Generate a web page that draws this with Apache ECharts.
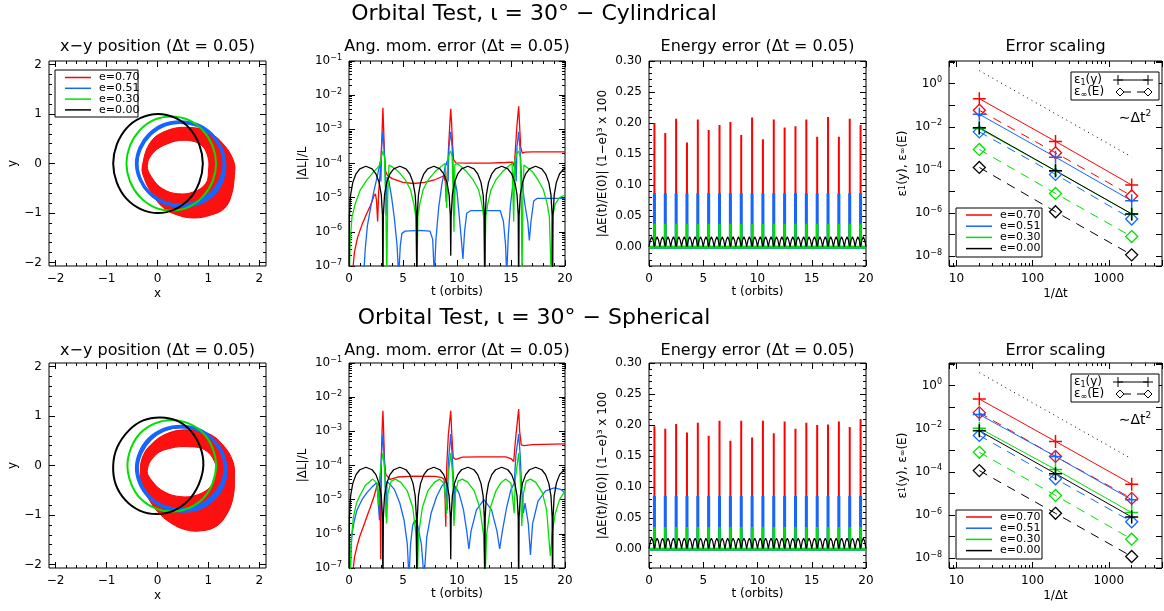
<!DOCTYPE html>
<html><head><meta charset="utf-8"><title>Orbital Test</title>
<script src="https://cdn.jsdelivr.net/npm/echarts@6.0.0/dist/echarts.min.js"></script>
<style>html,body{margin:0;padding:0;background:#fff;}#chart{width:1164px;height:611px;}</style>
</head><body><div id="chart"></div>
<script>
// ---------------- DATA ----------------
const mainTitles = ['Orbital Test, ι = 30° − Cylindrical', 'Orbital Test, ι = 30° − Spherical'];
const panelTitles = ['x−y position (Δt = 0.05)', 'Ang. mom. error (Δt = 0.05)', 'Energy error (Δt = 0.05)', 'Error scaling'];
const legendLabels = ['e=0.70', 'e=0.51', 'e=0.30', 'e=0.00'];
const xyTicks = [-2, -1, 0, 1, 2];
const tTicks = [0, 5, 10, 15, 20];
const energyTicks = [0, 0.05, 0.10, 0.15, 0.20, 0.25, 0.30];

// x-y orbits (Cylindrical)
const cylXYBlack = [[0.89,0],[0.82,0.38],[0.63,0.71],[0.35,0.92],[0.01,1.0],[-0.33,0.92],[-0.61,0.71],[-0.80,0.38],[-0.87,0],[-0.80,-0.38],[-0.61,-0.71],[-0.33,-0.92],[0.01,-1.0],[0.35,-0.92],[0.63,-0.71],[0.82,-0.38]];
const cylXYGreen = [[1.15,0],[1.08,0.36],[0.89,0.67],[0.61,0.88],[0.27,0.95],[-0.07,0.88],[-0.35,0.67],[-0.54,0.36],[-0.61,0],[-0.54,-0.36],[-0.35,-0.67],[-0.07,-0.88],[0.27,-0.95],[0.61,-0.88],[0.89,-0.67],[1.08,-0.36]];
const cylXYBlue = [[1.31,0],[1.24,0.32],[1.06,0.59],[0.78,0.78],[0.45,0.84],[0.12,0.78],[-0.16,0.59],[-0.34,0.32],[-0.41,0],[-0.34,-0.32],[-0.16,-0.59],[0.12,-0.78],[0.45,-0.84],[0.78,-0.78],[1.06,-0.59],[1.24,-0.32]];
const cylXYBlue2 = [[1.33,-0.05],[1.27,0.27],[1.09,0.55],[0.81,0.75],[0.48,0.82],[0.15,0.77],[-0.14,0.58],[-0.33,0.30],[-0.40,-0.02],[-0.32,-0.35],[-0.13,-0.63],[0.15,-0.81],[0.48,-0.87],[0.82,-0.81],[1.10,-0.63],[1.27,-0.36]];
const cylXYRedOuter = [[-0.30,-0.07],[-0.13,0.44],[0.20,0.67],[0.59,0.73],[0.99,0.64],[1.31,0.37],[1.50,0.03],[1.51,-0.24],[1.45,-0.64],[1.31,-0.91],[1.05,-1.04],[0.72,-1.10],[0.39,-1.04],[0.10,-0.88],[-0.13,-0.57],[-0.26,-0.30]];
const cylXYRedInner = [[-0.20,-0.03],[-0.07,0.23],[0.20,0.40],[0.52,0.47],[0.85,0.38],[0.99,0.13],[1.0,-0.17],[0.95,-0.40],[0.72,-0.57],[0.39,-0.61],[0.10,-0.51],[-0.10,-0.30]];
// x-y orbits (Spherical)
const sphXYBlack = [[0.90,0],[0.84,0.37],[0.66,0.69],[0.39,0.90],[0.06,0.97],[-0.28,0.91],[-0.57,0.70],[-0.79,0.37],[-0.87,0],[-0.82,-0.38],[-0.63,-0.70],[-0.35,-0.91],[-0.02,-0.98],[0.32,-0.91],[0.61,-0.70],[0.81,-0.38]];
const sphXYGreen = [[1.15,0],[1.08,0.35],[0.90,0.65],[0.61,0.85],[0.28,0.92],[-0.05,0.85],[-0.34,0.65],[-0.52,0.35],[-0.59,0],[-0.52,-0.36],[-0.34,-0.66],[-0.05,-0.86],[0.28,-0.93],[0.61,-0.86],[0.90,-0.66],[1.08,-0.36]];
const sphXYBlue = [[1.33,-0.05],[1.26,0.27],[1.07,0.54],[0.79,0.73],[0.46,0.79],[0.13,0.73],[-0.16,0.54],[-0.34,0.27],[-0.41,-0.05],[-0.34,-0.37],[-0.16,-0.64],[0.13,-0.83],[0.46,-0.89],[0.79,-0.83],[1.07,-0.64],[1.26,-0.37]];
const sphXYBlue2 = [[1.35,-0.10],[1.29,0.22],[1.11,0.50],[0.83,0.70],[0.49,0.77],[0.16,0.72],[-0.13,0.53],[-0.32,0.25],[-0.39,-0.07],[-0.31,-0.40],[-0.12,-0.68],[0.17,-0.87],[0.50,-0.93],[0.83,-0.87],[1.11,-0.68],[1.29,-0.41]];
const sphXYRedOuter = [[-0.34,-0.19],[-0.30,0.15],[-0.13,0.42],[0.20,0.65],[0.59,0.72],[0.99,0.65],[1.28,0.42],[1.48,0.08],[1.51,-0.25],[1.48,-0.66],[1.35,-1.0],[1.15,-1.23],[0.85,-1.32],[0.56,-1.30],[0.26,-1.16],[0.0,-0.93],[-0.20,-0.63],[-0.32,-0.39]];
const sphXYRedInner = [[-0.20,-0.09],[-0.03,0.22],[0.26,0.35],[0.59,0.38],[0.92,0.32],[1.12,0.08],[1.15,-0.19],[1.05,-0.42],[0.79,-0.59],[0.46,-0.63],[0.13,-0.53],[-0.10,-0.32]];

// Angular momentum error |dL|/L vs t (orbits) - Cylindrical
const cylAngRed = [[0.3,5e-8],[0.5,2.5e-7],[0.8,7e-7],[1.2,1.6e-6],[1.6,3.2e-6],[2.0,6e-6],[2.3,1.1e-5],[2.45,1.3e-5],[2.55,8e-6],[2.65,2e-6],[2.75,1.5e-5],[2.9,6e-5],[3.0,2.5e-4],[3.08,1.2e-3],[3.14,4.3e-3],[3.2,1.2e-3],[3.28,2e-4],[3.38,6e-5],[3.55,4.5e-5],[4.0,3.6e-5],[5.0,2.8e-5],[6.0,2.6e-5],[7.0,2.8e-5],[8.0,3.4e-5],[8.75,4.3e-5],[8.92,3e-5],[9.0,7.5e-6],[9.1,5e-5],[9.22,3e-4],[9.34,1.5e-3],[9.42,4e-3],[9.5,1.5e-3],[9.58,4e-4],[9.68,1.3e-4],[9.9,1.05e-4],[11,1.02e-4],[13,1.03e-4],[14.5,1.07e-4],[15.15,1.1e-4],[15.3,8e-5],[15.42,3e-4],[15.55,1.3e-3],[15.71,4.7e-3],[15.8,1.2e-3],[15.9,3e-4],[16.05,2e-4],[16.3,2.15e-4],[17,2.2e-4],[20,2.2e-4]];
const cylAngBlue = [[1.35,5e-8],[1.5,3e-7],[1.7,1.5e-6],[2.0,5e-6],[2.3,1.5e-5],[2.6,4e-5],[2.8,8e-5],[2.9,1.2e-4],[2.96,3e-5],[3.02,3e-4],[3.14,8.5e-4],[3.24,3e-4],[3.32,1.2e-4],[3.4,1.3e-4],[3.46,3e-6],[3.52,4e-5],[3.7,3e-5],[3.95,1e-5],[4.2,2.5e-6],[4.45,4e-7],[4.6,5e-8],[4.75,4e-7],[4.9,9e-7],[5.2,1.05e-6],[6.5,1.1e-6],[7.5,1.05e-6],[7.75,6e-7],[7.9,5e-8],[8.05,6e-7],[8.3,5e-6],[8.6,2.5e-5],[8.9,8e-5],[9.1,1.2e-4],[9.18,3e-5],[9.25,3e-4],[9.42,8.5e-4],[9.55,3e-4],[9.62,1.2e-4],[9.7,1.3e-4],[9.76,3e-6],[9.82,3e-5],[10.0,1.5e-5],[10.2,3e-6],[10.4,6e-7],[10.55,1.6e-7],[10.7,1e-6],[10.9,3.5e-6],[11.3,4.2e-6],[14.0,4.2e-6],[14.3,2e-6],[14.5,4e-7],[14.6,5e-8],[14.75,8e-7],[14.95,6e-6],[15.2,3e-5],[15.4,1.2e-4],[15.48,3e-5],[15.55,3e-4],[15.71,8.5e-4],[15.82,3e-4],[15.9,1.2e-4],[16.0,3e-5],[16.3,6e-6],[16.55,2e-6],[16.7,5.6e-7],[16.85,2e-6],[17.1,8e-6],[17.4,9.5e-6],[20,9.5e-6]];
const cylAngGreen = [[0,1e-8],[0.1,5e-7],[0.28,2.8e-6],[0.58,6.6e-6],[1.05,1.7e-5],[1.66,3.3e-5],[2.28,5.7e-5],[2.74,8e-5],[2.9,1.0e-4],[3.0,1.6e-4],[3.14,2.3e-4],[3.28,1.6e-4],[3.4,1e-5],[3.5,5e-8],[3.58,1e-5],[3.7,9e-5],[3.8,1e-4],[4.0,8e-5],[4.6,5.7e-5],[5.22,3.3e-5],[5.7,1.7e-5],[6.0,6.6e-6],[6.18,2.8e-6],[6.28,5e-8],[6.38,2.8e-6],[6.56,6.6e-6],[6.86,1.7e-5],[7.33,3.3e-5],[7.95,5.7e-5],[8.5,8e-5],[8.9,1.0e-4],[9.05,5e-6],[9.15,1.2e-4],[9.3,2e-4],[9.42,2.3e-4],[9.55,1.6e-4],[9.65,1e-5],[9.72,1e-6],[9.8,9e-5],[10.0,1e-4],[10.4,8e-5],[10.9,5.7e-5],[11.5,3.3e-5],[12.0,1.7e-5],[12.3,6.6e-6],[12.47,2.8e-6],[12.57,5e-8],[12.67,2.8e-6],[12.85,6.6e-6],[13.15,1.7e-5],[13.6,3.3e-5],[14.2,5.7e-5],[14.7,8e-5],[15.1,1e-4],[15.25,2e-6],[15.35,1.2e-4],[15.55,2e-4],[15.71,2.3e-4],[15.85,1.6e-4],[15.95,1e-5],[16.02,5e-8],[16.1,1e-5],[16.2,9e-5],[16.4,8e-5],[17.0,5.7e-5],[17.5,3.3e-5],[18.0,1.7e-5],[18.35,6.6e-6],[18.55,2.8e-6],[18.72,5e-8],[18.85,2.8e-6],[19.1,6.6e-6],[19.5,1e-5],[20,1.2e-5]];
const cylAngBlack = [[0,1e-8],[0.04,3e-6],[0.15,1.2e-5],[0.35,2.8e-5],[0.65,5e-5],[1.0,7e-5],[1.57,8.3e-5],[2.14,7e-5],[2.49,5e-5],[2.79,2.8e-5],[2.99,1.2e-5],[3.10,3e-6],[3.14,1e-8],[3.18,3e-6],[3.29,1.2e-5],[3.49,2.8e-5],[3.79,5e-5],[4.14,7e-5],[4.71,8.3e-5],[5.28,7e-5],[5.63,5e-5],[5.93,2.8e-5],[6.13,1.2e-5],[6.24,3e-6],[6.28,1e-8],[6.32,3e-6],[6.43,1.2e-5],[6.63,2.8e-5],[6.93,5e-5],[7.28,7e-5],[7.85,8.3e-5],[8.42,7e-5],[8.77,5e-5],[9.07,2.8e-5],[9.27,1.2e-5],[9.38,3e-6],[9.42,2e-7],[9.46,3e-6],[9.57,1.2e-5],[9.77,2.8e-5],[10.07,5e-5],[10.42,7e-5],[11.0,8.3e-5],[11.57,7e-5],[11.92,5e-5],[12.22,2.8e-5],[12.42,1.2e-5],[12.53,3e-6],[12.57,1e-8],[12.61,3e-6],[12.72,1.2e-5],[12.92,2.8e-5],[13.22,5e-5],[13.57,7e-5],[14.14,8.3e-5],[14.71,7e-5],[15.06,5e-5],[15.36,2.8e-5],[15.56,1.2e-5],[15.67,3e-6],[15.71,1e-8],[15.75,3e-6],[15.86,1.2e-5],[16.06,2.8e-5],[16.36,5e-5],[16.71,7e-5],[17.28,8.3e-5],[17.85,7e-5],[18.2,5e-5],[18.5,2.8e-5],[18.7,1.2e-5],[18.81,3e-6],[18.85,1e-8],[18.89,3e-6],[19.0,1.2e-5],[19.2,2.8e-5],[19.5,5e-5],[20.0,7.5e-5]];
// Angular momentum error - Spherical
const sphAngRed = [[0.3,5e-8],[0.5,2e-7],[0.74,4.3e-7],[1.0,8.5e-7],[1.35,1.7e-6],[1.7,3.5e-6],[1.96,5.8e-6],[2.3,1.2e-5],[2.58,2.5e-5],[2.8,3e-5],[2.88,1e-5],[2.94,1.8e-7],[3.0,2e-4],[3.07,1.2e-3],[3.14,4e-3],[3.2,1.2e-3],[3.28,1.5e-4],[3.4,5.5e-5],[3.8,3.9e-5],[4.5,4.6e-5],[6,4.9e-5],[8,4.8e-5],[8.6,4.4e-5],[8.8,4e-5],[8.9,1e-5],[8.96,1.6e-6],[9.05,1e-4],[9.2,8e-4],[9.42,4e-3],[9.52,8e-4],[9.65,1.7e-4],[9.9,1.5e-4],[10.5,1.75e-4],[12,1.8e-4],[14.5,1.8e-4],[15.0,1.6e-4],[15.25,1.3e-4],[15.4,5e-4],[15.55,1.5e-3],[15.71,4.5e-3],[15.8,1e-3],[15.95,4e-4],[16.2,3.8e-4],[17,4.1e-4],[20,4.3e-4]];
const sphAngBlue = [[0.1,5e-8],[0.2,4e-7],[0.28,1e-6],[0.5,2.5e-6],[0.74,5e-6],[1.2,1e-5],[1.66,1.6e-5],[2.1,2.3e-5],[2.58,3.2e-5],[2.76,3.5e-5],[2.82,2.5e-6],[2.9,4e-5],[3.0,2e-4],[3.14,8.3e-4],[3.25,2e-4],[3.38,1.5e-5],[3.45,3e-6],[3.52,3.5e-5],[3.7,3.2e-5],[4.2,2e-5],[4.7,8e-6],[5.1,2.5e-6],[5.4,5e-7],[5.55,5e-8],[5.7,5e-7],[5.9,1.8e-6],[6.1,2.5e-6],[6.35,1.8e-6],[6.7,5e-7],[6.95,5e-8],[7.2,8e-7],[7.6,4e-6],[8.1,1.2e-5],[8.6,2.5e-5],[9.0,3.5e-5],[9.1,5e-6],[9.2,1.2e-4],[9.42,8.3e-4],[9.55,2e-4],[9.7,3e-5],[9.75,2.5e-6],[9.85,2.5e-5],[10.2,1.5e-5],[10.6,5e-6],[10.9,1.2e-6],[11.1,3.6e-7],[11.3,1.2e-6],[11.8,5e-6],[12.5,1e-5],[13.2,5e-6],[13.7,1.2e-6],[13.95,3.6e-7],[14.2,1.2e-6],[14.6,6e-6],[15.0,2e-5],[15.3,3e-5],[15.45,2e-4],[15.71,8.3e-4],[15.85,2e-4],[16.0,2e-5],[16.15,4e-6],[16.3,8e-6],[16.6,2e-6],[16.8,2.4e-7],[17.0,2e-6],[17.5,9e-6],[18.2,1.8e-5],[19,2.2e-5],[19.6,2e-5],[20,1.6e-5]];
const sphAngGreen = [[0.1,5e-8],[0.2,6e-7],[0.4,3e-6],[0.7,8e-6],[1.0,1.3e-5],[1.5,2.6e-5],[2.2,4e-5],[2.6,3e-5],[2.72,7e-6],[2.8,3e-5],[2.95,1e-4],[3.14,2.3e-4],[3.3,8e-5],[3.48,2e-6],[3.6,1.5e-5],[3.9,3.5e-5],[4.3,4e-5],[4.8,3.2e-5],[5.4,1.8e-5],[5.9,6e-6],[6.2,1e-6],[6.32,5e-8],[6.45,1e-6],[6.8,6e-6],[7.3,1.8e-5],[7.9,3.2e-5],[8.4,4e-5],[8.8,3e-5],[9.05,4e-6],[9.15,4e-5],[9.42,2.3e-4],[9.6,5e-5],[9.72,1.7e-6],[9.85,1.5e-5],[10.1,3.5e-5],[10.5,4e-5],[11,3.2e-5],[11.6,1.8e-5],[12.1,6e-6],[12.45,1e-6],[12.6,5e-8],[12.75,1e-6],[13.1,6e-6],[13.6,1.8e-5],[14.1,3.2e-5],[14.5,4e-5],[15.0,3e-5],[15.3,4e-6],[15.4,4e-5],[15.71,2.3e-4],[15.85,5e-5],[16.0,1.7e-6],[16.15,1.5e-5],[16.4,3.5e-5],[16.8,4e-5],[17.3,3.2e-5],[17.9,1.6e-5],[18.3,5e-6],[18.55,5e-7],[18.65,2.2e-7],[18.8,1e-6],[19.1,4e-6],[19.5,1e-5],[20,1.8e-5]];
const sphAngBlack = [[0,1e-8],[0.04,3e-6],[0.15,1.3e-5],[0.35,3e-5],[0.65,5.4e-5],[1.0,7.5e-5],[1.57,8.9e-5],[2.14,7.5e-5],[2.49,5.4e-5],[2.79,3e-5],[2.99,1.3e-5],[3.10,3e-6],[3.14,1e-8],[3.18,3e-6],[3.29,1.3e-5],[3.49,3e-5],[3.79,5.4e-5],[4.14,7.5e-5],[4.71,8.9e-5],[5.28,7.5e-5],[5.63,5.4e-5],[5.93,3e-5],[6.13,1.3e-5],[6.24,3e-6],[6.28,1e-8],[6.32,3e-6],[6.43,1.3e-5],[6.63,3e-5],[6.93,5.4e-5],[7.28,7.5e-5],[7.85,8.9e-5],[8.42,7.5e-5],[8.77,5.4e-5],[9.07,3e-5],[9.27,1.3e-5],[9.38,3e-6],[9.42,1.8e-7],[9.46,3e-6],[9.57,1.3e-5],[9.77,3e-5],[10.07,5.4e-5],[10.42,7.5e-5],[11.0,8.9e-5],[11.57,7.5e-5],[11.92,5.4e-5],[12.22,3e-5],[12.42,1.3e-5],[12.53,3e-6],[12.57,1e-8],[12.61,3e-6],[12.72,1.3e-5],[12.92,3e-5],[13.22,5.4e-5],[13.57,7.5e-5],[14.14,8.9e-5],[14.71,7.5e-5],[15.06,5.4e-5],[15.36,3e-5],[15.56,1.3e-5],[15.67,3e-6],[15.71,1e-8],[15.75,3e-6],[15.86,1.3e-5],[16.06,3e-5],[16.36,5.4e-5],[16.71,7.5e-5],[17.28,8.9e-5],[17.85,7.5e-5],[18.2,5.4e-5],[18.5,3e-5],[18.7,1.3e-5],[18.81,3e-6],[18.85,1e-8],[18.89,3e-6],[19.0,1.3e-5],[19.2,3e-5],[19.5,5.4e-5],[20.0,8e-5]];

// Energy error: spike times and heights
const energyT = [0.5,1.5,2.5,3.5,4.5,5.5,6.5,7.5,8.5,9.5,10.5,11.5,12.5,13.5,14.5,15.5,16.5,17.5,18.5,19.5];
const cylEnergyRed = [0.200,0.184,0.207,0.169,0.206,0.189,0.197,0.202,0.181,0.209,0.174,0.206,0.193,0.195,0.206,0.178,0.210,0.178,0.207,0.197];
const cylEnergyBlue = [0.087,0.087,0.087,0.087,0.087,0.087,0.087,0.087,0.087,0.087,0.087,0.087,0.087,0.087,0.087,0.087,0.087,0.087,0.087,0.087];
const cylEnergyGreen = [0.038,0.038,0.038,0.038,0.038,0.038,0.038,0.038,0.038,0.038,0.038,0.038,0.038,0.038,0.038,0.038,0.038,0.038,0.038,0.038];
const sphEnergyRed = [0.198,0.194,0.202,0.188,0.204,0.183,0.207,0.175,0.207,0.180,0.207,0.187,0.206,0.194,0.204,0.200,0.201,0.206,0.197,0.210];
const sphEnergyBlue = [0.086,0.086,0.086,0.086,0.086,0.086,0.086,0.086,0.086,0.086,0.086,0.086,0.086,0.086,0.086,0.086,0.086,0.086,0.086,0.086];
const sphEnergyGreen = [0.036,0.036,0.036,0.036,0.036,0.036,0.036,0.036,0.036,0.036,0.036,0.036,0.036,0.036,0.036,0.036,0.036,0.036,0.036,0.036];
// e=0 energy oscillation, sampled every 0.125 orbits from t=0 to t=20
const blackStep = 0.125;
const cylEnergyBlack = [
0.001,0.012,0.017,0.012,0.001,0.012,0.017,0.012,0.001,0.012,0.017,0.012,0.001,0.012,0.017,0.012,0.001,0.012,0.017,0.012,
0.001,0.012,0.017,0.012,0.001,0.012,0.017,0.012,0.001,0.012,0.017,0.012,0.001,0.012,0.017,0.012,0.001,0.012,0.017,0.012,
0.001,0.012,0.017,0.012,0.001,0.012,0.017,0.012,0.001,0.012,0.017,0.012,0.001,0.012,0.017,0.012,0.001,0.012,0.017,0.012,
0.001,0.012,0.017,0.012,0.001,0.012,0.017,0.012,0.001,0.012,0.017,0.012,0.001,0.012,0.017,0.012,0.001,0.012,0.017,0.012,
0.001,0.012,0.017,0.012,0.001,0.012,0.017,0.012,0.001,0.012,0.017,0.012,0.001,0.012,0.017,0.012,0.001,0.012,0.017,0.012,
0.001,0.012,0.017,0.012,0.001,0.012,0.017,0.012,0.001,0.012,0.017,0.012,0.001,0.012,0.017,0.012,0.001,0.012,0.017,0.012,
0.001,0.012,0.017,0.012,0.001,0.012,0.017,0.012,0.001,0.012,0.017,0.012,0.001,0.012,0.017,0.012,0.001,0.012,0.017,0.012,
0.001,0.012,0.017,0.012,0.001,0.012,0.017,0.012,0.001,0.012,0.017,0.012,0.001,0.012,0.017,0.012,0.001,0.012,0.017,0.012,
0.001];
const sphEnergyBlack = [
0.001,0.013,0.018,0.013,0.001,0.013,0.018,0.013,0.001,0.013,0.018,0.013,0.001,0.013,0.018,0.013,0.001,0.013,0.018,0.013,
0.001,0.013,0.018,0.013,0.001,0.013,0.018,0.013,0.001,0.013,0.018,0.013,0.001,0.013,0.018,0.013,0.001,0.013,0.018,0.013,
0.001,0.013,0.018,0.013,0.001,0.013,0.018,0.013,0.001,0.013,0.018,0.013,0.001,0.013,0.018,0.013,0.001,0.013,0.018,0.013,
0.001,0.013,0.018,0.013,0.001,0.013,0.018,0.013,0.001,0.013,0.018,0.013,0.001,0.013,0.018,0.013,0.001,0.013,0.018,0.013,
0.001,0.013,0.018,0.013,0.001,0.013,0.018,0.013,0.001,0.013,0.018,0.013,0.001,0.013,0.018,0.013,0.001,0.013,0.018,0.013,
0.001,0.013,0.018,0.013,0.001,0.013,0.018,0.013,0.001,0.013,0.018,0.013,0.001,0.013,0.018,0.013,0.001,0.013,0.018,0.013,
0.001,0.013,0.018,0.013,0.001,0.013,0.018,0.013,0.001,0.013,0.018,0.013,0.001,0.013,0.018,0.013,0.001,0.013,0.018,0.013,
0.001,0.013,0.018,0.013,0.001,0.013,0.018,0.013,0.001,0.013,0.018,0.013,0.001,0.013,0.018,0.013,0.001,0.013,0.018,0.013,
0.001];

// Error scaling: x = 1/dt
const invDt = [20, 200, 2000];
const cylE1 = [[0.20,2.1e-3,2.0e-5],[0.038,3.9e-4,3.7e-6],[8.3e-3,9.1e-5,9.1e-7],[9.1e-3,9.1e-5,9.1e-7]];
const cylEinf = [[0.058,6.2e-4,6.2e-6],[5.8e-3,6.2e-5,5.3e-7],[8.9e-4,8.1e-6,8.1e-8],[1.3e-4,1.15e-6,1.15e-8]];
const sphE1 = [[0.24,2.6e-3,2.7e-5],[0.046,5.2e-4,5.1e-6],[0.0107,1.3e-4,1.3e-6],[8.1e-3,8.3e-5,8.1e-7]];
const sphEinf = [[0.056,5.2e-4,5.9e-6],[4.9e-3,4.8e-5,4.9e-7],[8.1e-4,8.1e-6,7.6e-8],[1.15e-4,1.2e-6,1.2e-8]];
const refInvDt = [20, 2000];
const refDt2 = [4, 4e-4];

// ---------------- STYLE / LAYOUT ----------------
const FONT = 'DejaVu Sans';
const COLORS = ['#ff0000', '#1466ff', '#00e000', '#000000'];
const ROW_TOP = [61, 363];
const TITLE_Y = [14, 318];
const PANEL_TITLE_Y = [47, 351];
const COL_LEFT = [49, 349, 649, 949];
const COL_W = [217, 216, 217, 213];
const PH = 205;

const option = {animation:false, backgroundColor:'#ffffff', grid:[], xAxis:[], yAxis:[], series:[], graphic:[]};

function addGrid(l, t, w, h){
  option.grid.push({left:l, top:t, width:w, height:h, show:true, borderColor:'#000', borderWidth:1, backgroundColor:'rgba(0,0,0,0)', outerBoundsMode:'none'});
  return option.grid.length - 1;
}
function baseAxis(type, gi, pos, min, max, extra){
  return Object.assign({type, gridIndex:gi, position:pos, min, max, silent:true,
    splitLine:{show:false}, splitArea:{show:false}, axisLine:{show:false, onZero:false},
    axisLabel:{show:false}, axisTick:{show:false}, minorTick:{show:false}, axisPointer:{show:false}}, extra);
}
function tick(len, values){
  const t = {show:true, inside:true, length:len, interval:0, lineStyle:{color:'#000', width:1}};
  if (values) t.customValues = values;
  return t;
}
const RICH = {
  b:{fontSize:12, fontFamily:FONT, color:'#000'},
  s:{fontSize:8, fontFamily:FONT, color:'#000', padding:[0,0,7,0]}
};
function nameStyle(){ return {fontSize:12, fontFamily:FONT, color:'#000', rich:{a:{fontSize:12,fontFamily:FONT,color:'#000'}, s:{fontSize:8,fontFamily:FONT,color:'#000'}}}; }

function linearAxes(dim, gi, c){
  const arr = dim === 'x' ? option.xAxis : option.yAxis;
  const sides = dim === 'x' ? ['bottom','top'] : ['left','right'];
  const idx = arr.length;
  arr.push(baseAxis('value', gi, sides[0], c.min, c.max, {
    axisTick:tick(6, c.major),
    axisLabel:{show:true, customValues:c.major, formatter:c.fmt, margin:7, fontSize:12, color:'#000', fontFamily:FONT},
    name:c.name, nameLocation:'middle', nameGap:c.gap, nameTextStyle:nameStyle()}));
  arr.push(baseAxis('value', gi, sides[1], c.min, c.max, {axisTick:tick(6, c.major)}));
  arr.push(baseAxis('value', gi, sides[0], c.min, c.max, {axisTick:tick(3, c.minor)}));
  arr.push(baseAxis('value', gi, sides[1], c.min, c.max, {axisTick:tick(3, c.minor)}));
  return idx;
}
function logAxes(dim, gi, c){
  const arr = dim === 'x' ? option.xAxis : option.yAxis;
  const sides = dim === 'x' ? ['bottom','top'] : ['left','right'];
  const idx = arr.length;
  arr.push(baseAxis('log', gi, sides[0], c.min, c.max, {logBase:10,
    axisTick:tick(6),
    axisLabel:{show:true, interval:0, formatter:c.fmt, margin:7, fontSize:12, color:'#000', fontFamily:FONT, rich:RICH, showMinLabel:true, showMaxLabel:true},
    name:c.name, nameLocation:'middle', nameGap:c.gap, nameTextStyle:nameStyle()}));
  arr.push(baseAxis('log', gi, sides[1], c.min, c.max, {logBase:10, axisTick:tick(6)}));
  const lmin = Math.log10(c.min), lmax = Math.log10(c.max);
  const minor = [];
  for (let n = Math.floor(lmin); n <= Math.ceil(lmax); n++) {
    c.minorMult.forEach(k => { const v = n + Math.log10(k); if (v > lmin && v < lmax) minor.push(v); });
  }
  arr.push(baseAxis('value', gi, sides[0], lmin, lmax, {axisTick:tick(3, minor)}));
  arr.push(baseAxis('value', gi, sides[1], lmin, lmax, {axisTick:tick(3, minor)}));
  return idx;
}
const MINUS = '−';
function fmtSigned(v){ return v < 0 ? MINUS + Math.abs(v) : String(v); }
function fmtPow(v){
  const e = Math.log10(v), r = Math.round(e);
  if (Math.abs(e - r) > 1e-6) return '';
  return '{b|10}{s|' + (r < 0 ? MINUS : '') + Math.abs(r) + '}';
}
function fmtPowEven(v){
  const e = Math.log10(v), r = Math.round(e);
  if (Math.abs(e - r) > 1e-6 || r % 2 !== 0) return '';
  return '{b|10}{s|' + (r < 0 ? MINUS : '') + Math.abs(r) + '}';
}
function fmtDecade(v){
  const e = Math.log10(v), r = Math.round(e);
  if (Math.abs(e - r) > 1e-6) return '';
  return String(Math.round(v));
}
function range(a, b, s){ const out = []; for (let i = 0; a + i*s <= b + 1e-9; i++) out.push(+(a + i*s).toFixed(4)); return out; }

function addLine(xi, yi, data, color, width, extra){
  option.series.push(Object.assign({type:'line', xAxisIndex:xi, yAxisIndex:yi, data, symbol:'none', showSymbol:false,
    lineStyle:{color, width}, itemStyle:{color}, clip:true, silent:true, animation:false}, extra||{}));
}
// closed smooth curve (filled region or outline) through the points, positioned by the axes' scales
function addClosed(xi, yi, pts, fill, stroke, width){
  option.series.push({type:'custom', xAxisIndex:xi, yAxisIndex:yi, data:pts, silent:true, animation:false,
    renderItem:(params, api) => params.dataIndex === 0 ? {type:'polygon', shape:{points:pts.map(p => api.coord(p)), smooth:0.4},
      style:{fill:fill, stroke:stroke, lineWidth:width}} : null});
}
function spikes(times, heights){
  const d = [[0, 0]];
  times.forEach((t, i) => { d.push([t, 0], [t, heights[i]], [t, 0]); });
  d.push([20, 0]);
  return d;
}
function text(x, y, str, size, align, extra){
  option.graphic.push({type:'text', x, y, z:100, silent:true, style:Object.assign({text:str, fill:'#000', font:size + 'px "' + FONT + '"', align:align||'center', verticalAlign:'middle'}, extra||{})});
}
function gLine(x1, y1, x2, y2, color, w){
  option.graphic.push({type:'line', z:100, silent:true, shape:{x1, y1, x2, y2}, style:{stroke:color, lineWidth:w||1}});
}
function gRect(x, y, w, h){
  option.graphic.push({type:'rect', z:99, silent:true, shape:{x, y, width:w, height:h}, style:{fill:'#fff', stroke:'#000', lineWidth:1}});
}
function gDiamond(x, y, r){
  option.graphic.push({type:'polygon', z:100, silent:true, shape:{points:[[x,y-r],[x+r,y],[x,y+r],[x-r,y]]}, style:{fill:'none', stroke:'#000', lineWidth:1}});
}
function eLegend(x, y){
  gRect(x, y, 86, 49);
  legendLabels.forEach((lab, i) => {
    const yy = y + 7 + i*11.2;
    gLine(x + 10, yy, x + 36, yy, COLORS[i], 1.5);
    text(x + 44, yy, lab, 11, 'left');
  });
}
function epsLegend(x, y){
  gRect(x, y, 88, 28);
  const rich = {a:{fontSize:12, fontFamily:FONT, fill:'#000'}, s:{fontSize:8, fontFamily:FONT, fill:'#000', padding:[6,0,0,0]}};
  text(x + 3, y + 8, '{a|ε}{s|1}{a|(y)}', 12, 'left', {rich});
  text(x + 3, y + 20, '{a|ε}{s|∞}{a|(E)}', 12, 'left', {rich});
  gLine(x + 47, y + 8, x + 77, y + 8, '#000', 1);
  [x + 47, x + 77].forEach(px => { gLine(px - 5, y + 8, px + 5, y + 8, '#000', 1); gLine(px, y + 3, px, y + 13, '#000', 1); });
  gDiamond(x + 49, y + 20, 4);
  gLine(x + 53, y + 20, x + 60, y + 20, '#000', 1);
  gLine(x + 66, y + 20, x + 73, y + 20, '#000', 1);
  gDiamond(x + 77, y + 20, 4);
}

const PLUS = 'path://M0,5L10,5M5,0L5,10';
const DIAMOND = 'path://M5,0L10,5L5,10L0,5Z';

function buildRow(r){
  const top = ROW_TOP[r];
  const sets = r === 0 ?
    {xy:[cylXYRedOuter, cylXYRedInner, cylXYBlue, cylXYBlue2, cylXYGreen, cylXYBlack], ang:[cylAngRed, cylAngBlue, cylAngGreen, cylAngBlack],
     en:[cylEnergyRed, cylEnergyBlue, cylEnergyGreen, cylEnergyBlack], e1:cylE1, einf:cylEinf} :
    {xy:[sphXYRedOuter, sphXYRedInner, sphXYBlue, sphXYBlue2, sphXYGreen, sphXYBlack], ang:[sphAngRed, sphAngBlue, sphAngGreen, sphAngBlack],
     en:[sphEnergyRed, sphEnergyBlue, sphEnergyGreen, sphEnergyBlack], e1:sphE1, einf:sphEinf};

  // Panel 1: x-y position
  let g = addGrid(COL_LEFT[0], top, COL_W[0], PH);
  let xi = linearAxes('x', g, {min:-2.13, max:2.13, major:xyTicks, minor:range(-2, 2, 0.2), fmt:fmtSigned, name:'x', gap:22});
  let yi = linearAxes('y', g, {min:-2.07, max:2.07, major:xyTicks, minor:range(-2, 2, 0.2), fmt:fmtSigned, name:'y', gap:30});
  addClosed(xi, yi, sets.xy[0], '#ff1010', '#ff0000', 1);
  addClosed(xi, yi, sets.xy[1], '#ffffff', '#ff0000', 1);
  addClosed(xi, yi, sets.xy[2], 'none', COLORS[1], 3.5);
  addClosed(xi, yi, sets.xy[3], 'none', COLORS[1], 2.5);
  addClosed(xi, yi, sets.xy[4], 'none', COLORS[2], 2);
  addClosed(xi, yi, sets.xy[5], 'none', COLORS[3], 2);

  // Panel 2: angular momentum error
  g = addGrid(COL_LEFT[1], top, COL_W[1], PH);
  xi = linearAxes('x', g, {min:0, max:20, major:tTicks, minor:range(0, 20, 1), fmt:v => String(v), name:'t (orbits)', gap:19});
  yi = logAxes('y', g, {min:1e-7, max:1e-1, fmt:fmtPow, minorMult:[2,3,4,5,6,7,8,9], name:'|ΔL|/L', gap:40});
  sets.ang.forEach((d, i) => addLine(xi, yi, d, COLORS[i], 1.3));

  // Panel 3: energy error
  g = addGrid(COL_LEFT[2], top, COL_W[2], PH);
  xi = linearAxes('x', g, {min:0, max:20, major:tTicks, minor:range(0, 20, 1), fmt:v => String(v), name:'t (orbits)', gap:19});
  yi = linearAxes('y', g, {min:-0.03, max:0.30, major:energyTicks, minor:range(-0.03, 0.30, 0.01), fmt:v => v.toFixed(2), name:'|ΔE(t)/E(0)| (1−e)³ x 100', gap:40});
  addLine(xi, yi, spikes(energyT, sets.en[0]), COLORS[0], 2);
  addLine(xi, yi, spikes(energyT, sets.en[1]), COLORS[1], 3);
  addLine(xi, yi, spikes(energyT, sets.en[2]), COLORS[2], 2.5);
  addLine(xi, yi, sets.en[3].map((v, i) => [i * blackStep, v]), COLORS[3], 1.2);

  // Panel 4: error scaling
  g = addGrid(COL_LEFT[3], top, COL_W[3], PH);
  xi = logAxes('x', g, {min:8, max:5000, fmt:fmtDecade, minorMult:[2,3,4,5,6,7,8,9], name:'1/Δt', gap:22});
  yi = logAxes('y', g, {min:3.5e-9, max:11.2, fmt:fmtPowEven, minorMult:[1], name:'{a|ε}{s|1}{a|(y), ε}{s|∞}{a|(E)}', gap:40});
  addLine(xi, yi, refInvDt.map((x, i) => [x, refDt2[i]]), '#000', 1, {lineStyle:{color:'#000', width:1, type:[1,4]}});
  for (let i = 0; i < 4; i++) {
    const c = COLORS[i];
    addLine(xi, yi, invDt.map((x, k) => [x, sets.einf[i][k]]), c, 1, {
      lineStyle:{color:c, width:1, type:[9,7]}, symbol:DIAMOND, showSymbol:true, symbolSize:12,
      itemStyle:{color:'rgba(0,0,0,0)', borderColor:c, borderWidth:1.3}});
    addLine(xi, yi, invDt.map((x, k) => [x, sets.e1[i][k]]), c, 1, {
      symbol:PLUS, showSymbol:true, symbolSize:13,
      itemStyle:{color:c, borderColor:c, borderWidth:1.5}});
  }

  // Titles
  text(534, TITLE_Y[r], mainTitles[r], 22);
  for (let p = 0; p < 4; p++) text(COL_LEFT[p] + COL_W[p] / 2, PANEL_TITLE_Y[r], panelTitles[p], 16);
  // Legends
  eLegend(956, top + 147);
  epsLegend(1071, top + 11);
  text(1135, top + 57, '∼Δt{s|2}', 14, 'center', {rich:{s:{fontSize:9, fontFamily:FONT, fill:'#000', padding:[0,0,8,0]}}});
}
buildRow(0);
buildRow(1);

// x-y legend (top panel only)
gRect(55, 70, 83, 47);
legendLabels.forEach((lab, i) => {
  const yy = 77.5 + i * 10.8;
  gLine(65, yy, 91, yy, COLORS[i], 1.5);
  text(99, yy, lab, 11, 'left');
});

const chart = echarts.init(document.getElementById('chart'), null, {renderer:'canvas'});
chart.setOption(option);
</script></body></html>
